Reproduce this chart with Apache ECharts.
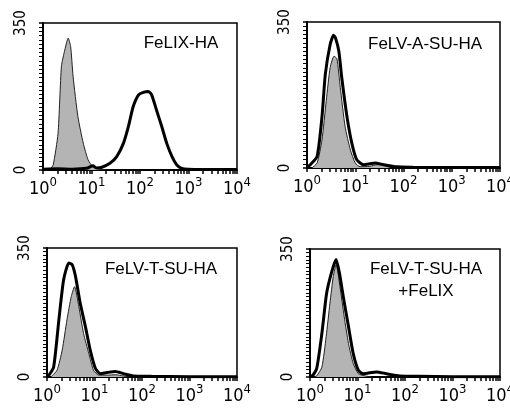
<!DOCTYPE html>
<html>
<head>
<meta charset="utf-8">
<script src="https://cdn.jsdelivr.net/npm/echarts@6/dist/echarts.min.js"></script>
<style>
html, body { margin: 0; padding: 0; background: #fff; }
#chart { width: 510px; height: 410px; }
</style>
</head>
<body>
<div id="chart"></div>
<script>
// x = log10 of fluorescence (decades), y = cell count
var decades = [0, 1, 2, 3, 4];
var yMax = 350;
var panelTitles = ['FeLIX-HA', 'FeLV-A-SU-HA', 'FeLV-T-SU-HA', 'FeLV-T-SU-HA\n+FeLIX'];

var p1Ctrl = [[0.05,0],[0.15,3],[0.21,12],[0.31,87],[0.38,247],[0.45,286],[0.52,314],[0.57,294],[0.62,223],[0.72,127],[0.83,64],[0.93,24],[1.03,8],[1.17,2],[1.3,0]];
var p1Sample = [[0,2],[0.3,3],[0.6,2],[0.9,4],[1.03,10],[1.1,5],[1.2,6],[1.38,16],[1.52,32],[1.66,64],[1.76,103],[1.86,151],[1.97,179],[2.07,185],[2.17,187],[2.24,179],[2.34,143],[2.45,103],[2.55,64],[2.66,32],[2.76,12],[2.86,4],[3.0,2],[3.5,1],[4,1]];

var p2Ctrl = [[0.1,0],[0.21,12],[0.31,67],[0.4,162],[0.48,241],[0.56,268],[0.62,262],[0.69,193],[0.79,99],[0.9,43],[1.0,12],[1.1,3],[1.3,4],[1.45,8],[1.6,6],[1.75,0]];
var p2Sample = [[0,2],[0.07,8],[0.21,28],[0.31,122],[0.38,225],[0.48,296],[0.55,318],[0.59,312],[0.66,280],[0.72,217],[0.83,122],[0.93,59],[1.03,20],[1.17,8],[1.3,10],[1.41,12],[1.59,8],[1.86,3],[2.2,2],[3,1],[4,1]];

var p3Ctrl = [[0.08,0],[0.21,18],[0.32,73],[0.42,155],[0.51,218],[0.58,245],[0.67,191],[0.77,118],[0.88,64],[0.98,18],[1.09,5],[1.26,5],[1.45,6],[1.6,3],[1.75,0]];
var p3Sample = [[0,3],[0.04,5],[0.14,27],[0.25,155],[0.35,264],[0.46,309],[0.53,305],[0.6,273],[0.7,200],[0.81,136],[0.91,73],[1.02,23],[1.12,9],[1.26,12],[1.44,15],[1.61,9],[1.82,3],[2.2,2],[3,1],[4,1]];

var p4Ctrl = [[0.08,0],[0.14,3],[0.25,27],[0.34,110],[0.42,202],[0.49,275],[0.55,307],[0.63,248],[0.72,165],[0.81,92],[0.91,37],[1.02,9],[1.16,3],[1.3,0]];
var p4Sample = [[0,3],[0.04,3],[0.14,23],[0.25,119],[0.35,229],[0.46,289],[0.55,321],[0.62,284],[0.7,220],[0.81,138],[0.91,64],[1.02,18],[1.12,9],[1.4,14],[1.61,9],[1.89,3],[2.3,2],[3,1],[4,1]];

var controls = [p1Ctrl, p2Ctrl, p3Ctrl, p4Ctrl];
var samples = [p1Sample, p2Sample, p3Sample, p4Sample];

var grids = [
	{ left: 43, top: 23, width: 194, height: 147 },
	{ left: 307, top: 22, width: 193, height: 146 },
	{ left: 47, top: 248, width: 190, height: 129 },
	{ left: 310, top: 249, width: 190, height: 128 }
];
var titlePos = [[181, 43], [425, 44], [161, 269], [426, 280]];

// log minor ticks 1..9 per decade
var logTicks = [];
for (var k = 0; k < 4; k++) {
	for (var m = 1; m < 10; m++) logTicks.push(k + Math.log10(m));
}
logTicks.push(4);

var narrow = '"Liberation Sans Narrow", "Arial Narrow", "DejaVu Sans Condensed", sans-serif';

var option = {
	animation: false,
	grid: [],
	xAxis: [],
	yAxis: [],
	series: [],
	graphic: []
};

for (var i = 0; i < 4; i++) {
	var g = grids[i];
	option.grid.push({
		left: g.left, top: g.top, width: g.width, height: g.height,
		show: true, borderColor: '#000', borderWidth: 1.5,
		outerBoundsMode: 'none'
	});
	option.xAxis.push({
		type: 'value', gridIndex: i, min: 0, max: 4,
		splitLine: { show: false },
		axisLine: { show: true, onZero: false, lineStyle: { color: '#000', width: 2 } },
		axisTick: { show: true, customValues: logTicks, length: 4, lineStyle: { color: '#000', width: 1.5 } },
		axisLabel: {
			customValues: decades, margin: 6, color: '#000',
			fontFamily: narrow, fontSize: 18,
			formatter: function(v) { return '10{s|' + v + '}'; },
			rich: { s: { fontSize: 13, fontFamily: narrow, color: '#000', padding: [0, 0, 14, 0] } }
		}
	});
	option.yAxis.push({
		type: 'value', gridIndex: i, min: 0, max: yMax, interval: yMax,
		splitLine: { show: false },
		axisLine: { show: true, lineStyle: { color: '#000', width: 2 } },
		axisTick: { show: true, length: 4, lineStyle: { color: '#000', width: 1.5 } },
		minorTick: { show: true, splitNumber: 35, length: 4, lineStyle: { color: '#000', width: 1 } },
		axisLabel: { rotate: 90, margin: 14, color: '#000', fontFamily: narrow, fontSize: 15 }
	});
	option.series.push({
		type: 'line', xAxisIndex: i, yAxisIndex: i,
		data: controls[i], symbol: 'none', smooth: 0.2,
		lineStyle: { color: '#222', width: 1 },
		areaStyle: { color: '#b4b4b4', opacity: 1 }
	});
	option.series.push({
		type: 'line', xAxisIndex: i, yAxisIndex: i,
		data: samples[i], symbol: 'none', smooth: 0.2,
		lineStyle: { color: '#000', width: 3 }
	});
	option.graphic.push({
		type: 'text', x: titlePos[i][0], y: titlePos[i][1],
		style: {
			text: panelTitles[i], fill: '#000', fontSize: 17, lineHeight: 22,
			fontFamily: '"Liberation Sans", Arial, sans-serif',
			align: 'center', verticalAlign: 'middle'
		}
	});
}

var myChart = echarts.init(document.getElementById('chart'));
myChart.setOption(option);
</script>
</body>
</html>
